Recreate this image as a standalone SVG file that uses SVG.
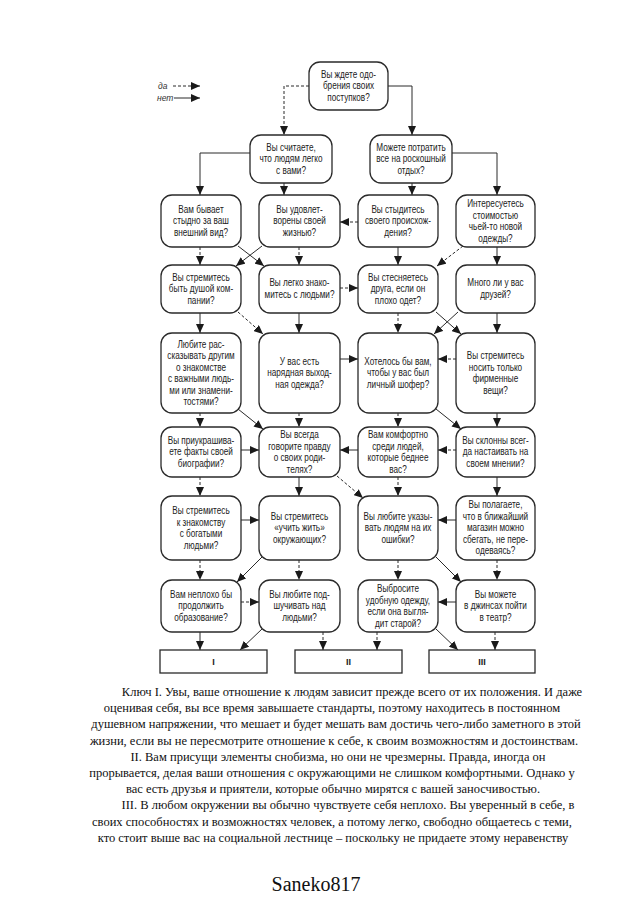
<svg xmlns="http://www.w3.org/2000/svg" width="634" height="897" viewBox="0 0 634 897">
<defs>
<marker id="ah" markerUnits="userSpaceOnUse" markerWidth="9" markerHeight="8" refX="9" refY="4" orient="auto" viewBox="0 0 9 8">
<path d="M0,0 L9,4 L0,8 z" fill="#1a1a1a"/>
</marker>
<style>
.box{fill:#fff;stroke:#2a2a2a;stroke-width:1.3}
.t{font-family:"Liberation Sans",Arial,sans-serif;font-size:10px;fill:#222;text-anchor:middle}
.r{font-family:"Liberation Sans",Arial,sans-serif;font-size:9px;font-weight:bold;fill:#222;text-anchor:middle}
.c{stroke:#2a2a2a;stroke-width:1;fill:none;marker-end:url(#ah)}
.d{stroke-dasharray:3 2}
.lg{font-family:"Liberation Sans",Arial,sans-serif;font-size:8.5px;font-style:italic;fill:#333}
.b{font-family:"Liberation Serif","Times New Roman",serif;font-size:12.5px;fill:#111;text-anchor:middle}
.s{font-family:"Liberation Serif","Times New Roman",serif;font-size:20px;fill:#111;text-anchor:middle}
</style>
</defs>
<rect width="634" height="897" fill="#fff"/>

<g id="legend">
<text class="lg" x="158" y="89">да</text>
<path class="c d" d="M173,86 H200"/>
<text class="lg" x="157" y="101">нет</text>
<path class="c" d="M174,98 H200"/>
</g>

<g id="connectors">
<path class="c d" d="M309,86 H284 V135"/>
<path class="c" d="M388,86 H412 V135"/>
<path class="c" d="M250,153 H200 V195"/>
<path class="c d" d="M284,183 V195"/>
<path class="c d" d="M412,183 V195"/>
<path class="c" d="M452,153 H497 V195"/>

<path class="c d" d="M200,247 V265"/>
<path class="c" d="M238,246 L264,266"/>
<path class="c" d="M262,246 L236,266"/>
<path class="c d" d="M299,247 V265"/>
<path class="c d" d="M358,222 H340"/>
<path class="c" d="M398,247 V265"/>
<path class="c d" d="M463,246 L437,266"/>
<path class="c" d="M497,247 V265"/>

<path class="c d" d="M340,288 H358"/>

<path class="c" d="M200,313 V333"/>
<path class="c d" d="M238,312 L263,334"/>
<path class="c" d="M299,313 V333"/>
<path class="c d" d="M398,313 V333"/>
<path class="c" d="M436,312 L461,334"/>
<path class="c" d="M458,312 L434,334"/>
<path class="c" d="M497,313 V333"/>

<path class="c" d="M340,359 H358"/>
<path class="c d" d="M456,359 H438"/>

<path class="c d" d="M200,413 V427"/>
<path class="c" d="M238,409 L263,429"/>
<path class="c d" d="M299,413 V427"/>
<path class="c d" d="M398,413 V427"/>
<path class="c" d="M436,409 L461,429"/>
<path class="c" d="M497,413 V427"/>

<path class="c" d="M241,450 H259"/>
<path class="c" d="M358,450 H340"/>
<path class="c d" d="M456,450 H438"/>

<path class="c d" d="M200,477 V496"/>
<path class="c" d="M299,477 V496"/>
<path class="c d" d="M337,476 L363,498"/>
<path class="c d" d="M398,477 V496"/>
<path class="c" d="M497,477 V496"/>

<path class="c" d="M241,520 H259"/>
<path class="c" d="M456,520 H438"/>

<path class="c d" d="M200,560 V580"/>
<path class="c" d="M262,557 L237,582"/>
<path class="c d" d="M299,560 V580"/>
<path class="c d" d="M398,560 V580"/>
<path class="c" d="M436,557 L461,582"/>
<path class="c d" d="M497,560 V580"/>

<path class="c d" d="M241,602 H259"/>
<path class="c" d="M456,602 H438"/>

<path class="c" d="M200,632 V650"/>
<path class="c" d="M262,629 L240,650"/>
<path class="c d" d="M323,632 V650"/>
<path class="c d" d="M377,632 V650"/>
<path class="c" d="M436,629 L458,650"/>
<path class="c d" d="M495,632 V650"/>
</g>

<g id="q1"><rect class="box" x="309" y="62" width="79" height="48" rx="11"/>
<text class="t" transform="translate(348.5,0) scale(0.82,1)"><tspan x="0" y="78">Вы ждете одо-</tspan><tspan x="0" y="89.5">брения своих</tspan><tspan x="0" y="101">поступков?</tspan></text></g>

<g id="q2"><rect class="box" x="250" y="135" width="82" height="48" rx="11"/>
<text class="t" transform="translate(291,0) scale(0.82,1)"><tspan x="0" y="151">Вы считаете,</tspan><tspan x="0" y="162.5">что людям легко</tspan><tspan x="0" y="174">с вами?</tspan></text></g>

<g id="q3"><rect class="box" x="370" y="135" width="82" height="48" rx="11"/>
<text class="t" transform="translate(411,0) scale(0.82,1)"><tspan x="0" y="151">Можете потратить</tspan><tspan x="0" y="162.5">все на роскошный</tspan><tspan x="0" y="174">отдых?</tspan></text></g>

<g id="q4"><rect class="box" x="161" y="195" width="80" height="52" rx="11"/>
<text class="t" transform="translate(201,0) scale(0.82,1)"><tspan x="0" y="213">Вам бывает</tspan><tspan x="0" y="224.5">стыдно за ваш</tspan><tspan x="0" y="236">внешний вид?</tspan></text></g>

<g id="q5"><rect class="box" x="259" y="195" width="81" height="52" rx="11"/>
<text class="t" transform="translate(299.5,0) scale(0.82,1)"><tspan x="0" y="213">Вы удовлет-</tspan><tspan x="0" y="224.5">ворены своей</tspan><tspan x="0" y="236">жизнью?</tspan></text></g>

<g id="q6"><rect class="box" x="358" y="195" width="80" height="52" rx="11"/>
<text class="t" transform="translate(398,0) scale(0.82,1)"><tspan x="0" y="213">Вы стыдитесь</tspan><tspan x="0" y="224.5">своего происхож-</tspan><tspan x="0" y="236">дения?</tspan></text></g>

<g id="q7"><rect class="box" x="456" y="195" width="79" height="52" rx="11"/>
<text class="t" transform="translate(495.5,0) scale(0.82,1)"><tspan x="0" y="207.5">Интересуетесь</tspan><tspan x="0" y="219">стоимостью</tspan><tspan x="0" y="230.5">чьей-то новой</tspan><tspan x="0" y="242">одежды?</tspan></text></g>

<g id="q8"><rect class="box" x="161" y="265" width="80" height="48" rx="11"/>
<text class="t" transform="translate(201,0) scale(0.82,1)"><tspan x="0" y="281">Вы стремитесь</tspan><tspan x="0" y="292.5">быть душой ком-</tspan><tspan x="0" y="304">пании?</tspan></text></g>

<g id="q9"><rect class="box" x="259" y="265" width="81" height="48" rx="11"/>
<text class="t" transform="translate(299.5,0) scale(0.82,1)"><tspan x="0" y="286.5">Вы легко знако-</tspan><tspan x="0" y="298">митесь с людьми?</tspan></text></g>

<g id="q10"><rect class="box" x="358" y="265" width="80" height="48" rx="11"/>
<text class="t" transform="translate(398,0) scale(0.82,1)"><tspan x="0" y="281">Вы стесняетесь</tspan><tspan x="0" y="292.5">друга, если он</tspan><tspan x="0" y="304">плохо одет?</tspan></text></g>

<g id="q11"><rect class="box" x="456" y="265" width="79" height="48" rx="11"/>
<text class="t" transform="translate(495.5,0) scale(0.82,1)"><tspan x="0" y="286.5">Много ли у вас</tspan><tspan x="0" y="298">друзей?</tspan></text></g>

<g id="q12"><rect class="box" x="161" y="333" width="80" height="80" rx="11"/>
<text class="t" transform="translate(201,0) scale(0.82,1)"><tspan x="0" y="347.75">Любите рас-</tspan><tspan x="0" y="359.25">сказывать другим</tspan><tspan x="0" y="370.75">о знакомстве</tspan><tspan x="0" y="382.25">с важными людь-</tspan><tspan x="0" y="393.75">ми или знамени-</tspan><tspan x="0" y="405.25">тостями?</tspan></text></g>

<g id="q13"><rect class="box" x="259" y="333" width="81" height="80" rx="11"/>
<text class="t" transform="translate(299.5,0) scale(0.82,1)"><tspan x="0" y="365">У вас есть</tspan><tspan x="0" y="376.5">нарядная выход-</tspan><tspan x="0" y="388">ная одежда?</tspan></text></g>

<g id="q14"><rect class="box" x="358" y="333" width="80" height="80" rx="11"/>
<text class="t" transform="translate(398,0) scale(0.82,1)"><tspan x="0" y="365">Хотелось бы вам,</tspan><tspan x="0" y="376.5">чтобы у вас был</tspan><tspan x="0" y="388">личный шофер?</tspan></text></g>

<g id="q15"><rect class="box" x="456" y="333" width="79" height="80" rx="11"/>
<text class="t" transform="translate(495.5,0) scale(0.82,1)"><tspan x="0" y="359.25">Вы стремитесь</tspan><tspan x="0" y="370.75">носить только</tspan><tspan x="0" y="382.25">фирменные</tspan><tspan x="0" y="393.75">вещи?</tspan></text></g>

<g id="q16"><rect class="box" x="161" y="427" width="80" height="50" rx="11"/>
<text class="t" transform="translate(201,0) scale(0.82,1)"><tspan x="0" y="444">Вы приукрашива-</tspan><tspan x="0" y="455.5">ете факты своей</tspan><tspan x="0" y="467">биографии?</tspan></text></g>

<g id="q17"><rect class="box" x="259" y="427" width="81" height="50" rx="11"/>
<text class="t" transform="translate(299.5,0) scale(0.82,1)"><tspan x="0" y="438.5">Вы всегда</tspan><tspan x="0" y="450">говорите правду</tspan><tspan x="0" y="461.5">о своих роди-</tspan><tspan x="0" y="473">телях?</tspan></text></g>

<g id="q18"><rect class="box" x="358" y="427" width="80" height="50" rx="11"/>
<text class="t" transform="translate(398,0) scale(0.82,1)"><tspan x="0" y="438.5">Вам комфортно</tspan><tspan x="0" y="450">среди людей,</tspan><tspan x="0" y="461.5">которые беднее</tspan><tspan x="0" y="473">вас?</tspan></text></g>

<g id="q19"><rect class="box" x="456" y="427" width="79" height="50" rx="11"/>
<text class="t" transform="translate(495.5,0) scale(0.82,1)"><tspan x="0" y="444">Вы склонны всег-</tspan><tspan x="0" y="455.5">да настаивать на</tspan><tspan x="0" y="467">своем мнении?</tspan></text></g>

<g id="q20"><rect class="box" x="161" y="496" width="80" height="64" rx="11"/>
<text class="t" transform="translate(201,0) scale(0.82,1)"><tspan x="0" y="514.25">Вы стремитесь</tspan><tspan x="0" y="525.75">к знакомству</tspan><tspan x="0" y="537.25">с богатыми</tspan><tspan x="0" y="548.75">людьми?</tspan></text></g>

<g id="q21"><rect class="box" x="259" y="496" width="81" height="64" rx="11"/>
<text class="t" transform="translate(299.5,0) scale(0.82,1)"><tspan x="0" y="520">Вы стремитесь</tspan><tspan x="0" y="531.5">«учить жить»</tspan><tspan x="0" y="543">окружающих?</tspan></text></g>

<g id="q22"><rect class="box" x="358" y="496" width="80" height="64" rx="11"/>
<text class="t" transform="translate(398,0) scale(0.82,1)"><tspan x="0" y="520">Вы любите указы-</tspan><tspan x="0" y="531.5">вать людям на их</tspan><tspan x="0" y="543">ошибки?</tspan></text></g>

<g id="q23"><rect class="box" x="456" y="496" width="79" height="64" rx="11"/>
<text class="t" transform="translate(495.5,0) scale(0.82,1)"><tspan x="0" y="508.5">Вы полагаете,</tspan><tspan x="0" y="520">что в ближайший</tspan><tspan x="0" y="531.5">магазин можно</tspan><tspan x="0" y="543">сбегать, не пере-</tspan><tspan x="0" y="554.5">одеваясь?</tspan></text></g>

<g id="q24"><rect class="box" x="161" y="580" width="80" height="52" rx="11"/>
<text class="t" transform="translate(201,0) scale(0.82,1)"><tspan x="0" y="598">Вам неплохо бы</tspan><tspan x="0" y="609.5">продолжить</tspan><tspan x="0" y="621">образование?</tspan></text></g>

<g id="q25"><rect class="box" x="259" y="580" width="81" height="52" rx="11"/>
<text class="t" transform="translate(299.5,0) scale(0.82,1)"><tspan x="0" y="598">Вы любите под-</tspan><tspan x="0" y="609.5">шучивать над</tspan><tspan x="0" y="621">людьми?</tspan></text></g>

<g id="q26"><rect class="box" x="358" y="580" width="80" height="52" rx="11"/>
<text class="t" transform="translate(398,0) scale(0.82,1)"><tspan x="0" y="592.25">Выбросите</tspan><tspan x="0" y="603.75">удобную одежду,</tspan><tspan x="0" y="615.25">если она выгля-</tspan><tspan x="0" y="626.75">дит старой?</tspan></text></g>

<g id="q27"><rect class="box" x="456" y="580" width="79" height="52" rx="11"/>
<text class="t" transform="translate(495.5,0) scale(0.82,1)"><tspan x="0" y="598">Вы можете</tspan><tspan x="0" y="609.5">в джинсах пойти</tspan><tspan x="0" y="621">в театр?</tspan></text></g>

<g id="res1"><rect class="box" x="160" y="650" width="107" height="23"/><text class="r" x="213.5" y="665">I</text></g>
<g id="res2"><rect class="box" x="295" y="650" width="107" height="23"/><text class="r" x="348.5" y="665">II</text></g>
<g id="res3"><rect class="box" x="429" y="650" width="106" height="23"/><text class="r" x="482" y="665">III</text></g>

<g id="key">
<text class="b" x="352" y="696">Ключ I. Увы, ваше отношение к людям зависит прежде всего от их положения. И даже</text>
<text class="b" x="332" y="712.2">оценивая себя, вы все время завышаете стандарты, поэтому находитесь в постоянном</text>
<text class="b" x="336" y="728.4">душевном напряжении, что мешает и будет мешать вам достичь чего-либо заметного в этой</text>
<text class="b" x="334" y="744.6">жизни, если вы не пересмотрите отношение к себе, к своим возможностям и достоинствам.</text>
<text class="b" x="338" y="760.8">II. Вам присущи элементы снобизма, но они не чрезмерны. Правда, иногда он</text>
<text class="b" x="332" y="777">прорывается, делая ваши отношения с окружающими не слишком комфортными. Однако у</text>
<text class="b" x="333" y="793.2">вас есть друзья и приятели, которые обычно мирятся с вашей заносчивостью.</text>
<text class="b" x="348" y="809.4">III. В любом окружении вы обычно чувствуете себя неплохо. Вы уверенный в себе, в</text>
<text class="b" x="332" y="825.6">своих способностях и возможностях человек, а потому легко, свободно общаетесь с теми,</text>
<text class="b" x="333" y="841.8">кто стоит выше вас на социальной лестнице – поскольку не придаете этому неравенству</text>
<text class="s" x="316" y="891">Saneko817</text>
</g>
</svg>
